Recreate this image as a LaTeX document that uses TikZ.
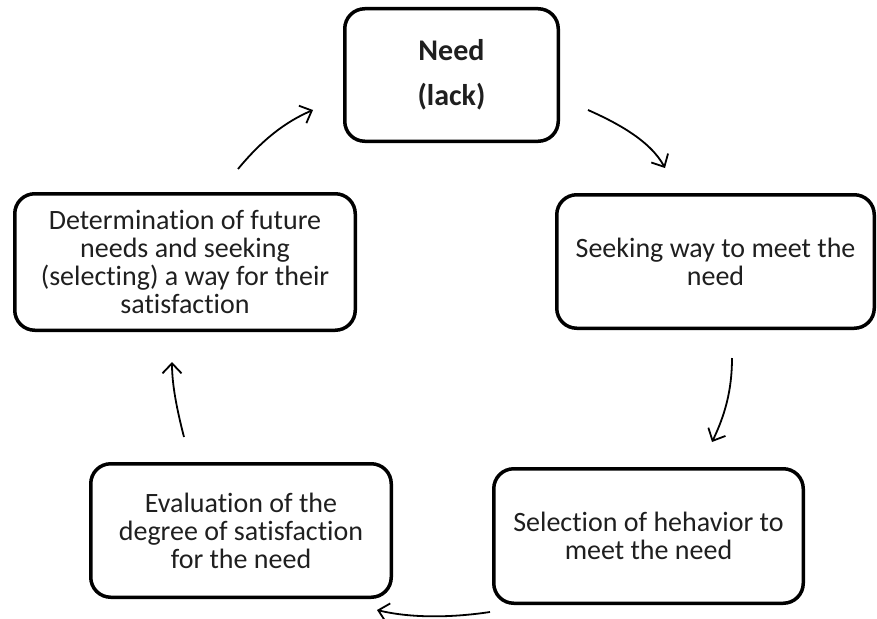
\documentclass[tikz,border=0pt]{standalone}
\usepackage{fontspec}
\setmainfont{Carlito}[Ligatures={NoCommon,NoContextual}]
\usetikzlibrary{arrows.meta}
\begin{document}
\begin{tikzpicture}[x=1pt,y=-1pt,
  box/.style={draw=black, line width=3.5pt, rounded corners=20pt, align=center,
    inner sep=0pt, font=\fontsize{28}{28}\selectfont, text=black!88},
  arr/.style={line width=1.8pt, -{Straight Barb[length=10pt,width=19pt,line width=1.8pt]}}]
\useasboundingbox (0,0) rectangle (877,618);
\node[box, minimum width=213.5pt, minimum height=132.5pt, font=\bfseries\fontsize{30}{45}\selectfont] (need) at (451.5,75) {Need\\(lack)};
\node[box, minimum width=317.5pt, minimum height=133.5pt] (seek) at (715.5,261.5) {Seeking way to meet the\\need};
\node[box, minimum width=309.5pt, minimum height=134.5pt] (sel) at (648.5,536) {Selection of hehavior to\\meet the need};
\node[box, minimum width=300.5pt, minimum height=133.5pt] (eval) at (241,530.5) {Evaluation of the\\degree of satisfaction\\for the need};
\node[box, minimum width=340.5pt, minimum height=136.5pt] (det) at (185,262) {Determination of future\\needs and seeking\\(selecting) a way for their\\satisfaction};
\coordinate (a1s) at (588,110); \coordinate (a1e) at (665,168);
\coordinate (a2s) at (732,358); \coordinate (a2e) at (712,442);
\coordinate (a3s) at (490,612); \coordinate (a3e) at (377,610);
\coordinate (a4s) at (184,437); \coordinate (a4e) at (172,362);
\coordinate (a5s) at (238,169); \coordinate (a5e) at (313,110);
\draw[arr] (a1s) .. controls (615,122) and (650,140) .. (a1e);
\draw[arr] (a2s) .. controls (732,390) and (725,415) .. (a2e);
\draw[arr] (a3s) .. controls (450,618) and (410,618) .. (a3e);
\draw[arr] (a4s) .. controls (177,410) and (172,385) .. (a4e);
\draw[arr] (a5s) .. controls (262,140) and (285,122) .. (a5e);
\end{tikzpicture}
\end{document}
